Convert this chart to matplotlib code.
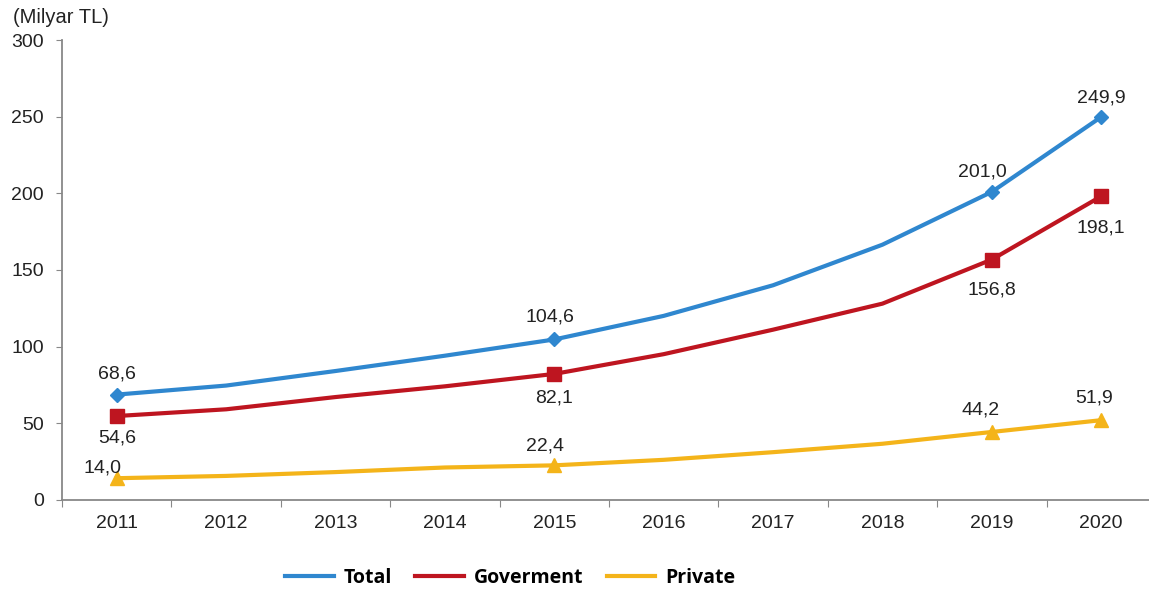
import matplotlib.pyplot as plt

plt.rcParams['font.family'] = ['Liberation Sans', 'DejaVu Sans']

# Yearly spending, billion TL
years = ['2011', '2012', '2013', '2014', '2015', '2016', '2017', '2018', '2019', '2020']
total = [68.6, 74.5, 84.0, 94.0, 104.6, 120.0, 140.0, 166.5, 201.0, 249.9]
goverment = [54.6, 59.0, 67.0, 74.0, 82.1, 95.0, 111.0, 128.0, 156.8, 198.1]
private = [14.0, 15.5, 18.0, 21.0, 22.4, 26.0, 31.0, 36.5, 44.2, 51.9]

# only these years carry a marker and a value label
labelled = [0, 4, 8, 9]

c_total = '#2F87CF'
c_gov = '#BE1520'
c_priv = '#F4B41A'

fig = plt.figure(figsize=(11.49, 5.92), dpi=100)
ax = fig.add_axes([0.054, 0.156, 0.952, 0.776])

x = list(range(len(years)))
ax.plot(x, total, color=c_total, lw=3, label='Total')
ax.plot(x, goverment, color=c_gov, lw=3, label='Goverment')
ax.plot(x, private, color=c_priv, lw=3, label='Private')

ax.plot([x[i] for i in labelled], [total[i] for i in labelled], 'D', color=c_total, ms=7, ls='none')
ax.plot([x[i] for i in labelled], [goverment[i] for i in labelled], 's', color=c_gov, ms=9.5, ls='none')
ax.plot([x[i] for i in labelled], [private[i] for i in labelled], '^', color=c_priv, ms=10, ls='none')

def fmt(v):
    return f'{v:.1f}'.replace('.', ',')

# label offsets in points (dx, dy)
total_off = {0: (0, 15), 4: (-3, 16), 8: (-7, 14), 9: (0, 14)}
gov_off = {0: (0, -16), 4: (0, -17), 8: (0, -22), 9: (0, -23)}
priv_off = {0: (-10, 7), 4: (-7, 14), 8: (-8, 16), 9: (-5, 16)}

for series, offs in ((total, total_off), (goverment, gov_off), (private, priv_off)):
    for i, (dx, dy) in offs.items():
        ax.annotate(fmt(series[i]), (x[i], series[i]), xytext=(dx, dy),
                    textcoords='offset points', ha='center', va='center',
                    fontsize=14, color='#222222')

ax.set_xlim(-0.5, len(years) - 0.5)
ax.set_ylim(0, 300)
ax.set_yticks(range(0, 301, 50))
ax.set_xticks([i - 0.5 for i in range(len(years) + 1)])
ax.set_xticklabels([])
ax.set_xticks(x, minor=True)
ax.set_xticklabels(years, minor=True)
ax.tick_params(axis='x', which='minor', length=0, pad=11, labelsize=14, labelcolor='#222222')
ax.tick_params(axis='x', which='major', length=5, color='#888888', direction='out')
ax.tick_params(axis='y', length=4, color='#888888', labelsize=14, pad=9, labelcolor='#222222')

for side in ('top', 'right'):
    ax.spines[side].set_visible(False)
for side in ('left', 'bottom'):
    ax.spines[side].set_color('#888888')
    ax.spines[side].set_linewidth(1.3)

fig.text(0.011, 0.971, '(Milyar TL)', fontsize=14.5, ha='left', va='center', color='#222222')

leg = fig.legend(loc='center', bbox_to_anchor=(0.444, 0.024), ncol=3, frameon=False,
                 prop={'family': 'Open Sans', 'weight': 'bold', 'size': 14},
                 handlelength=2.5, handletextpad=0.5, columnspacing=1.2)

fig.savefig('out.png', dpi=100)
